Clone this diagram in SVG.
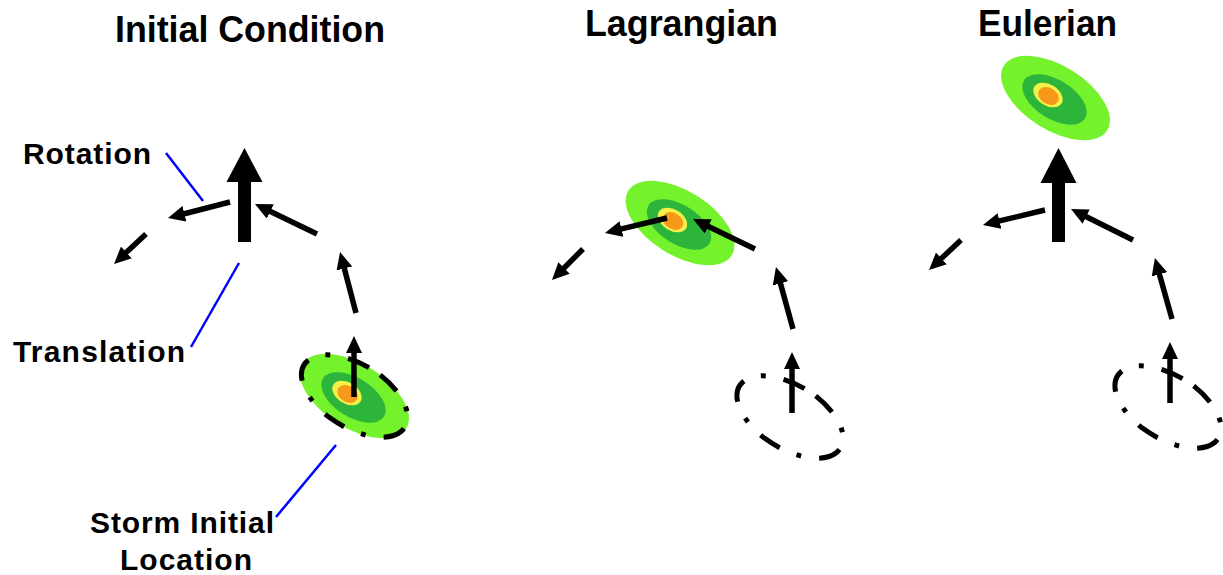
<svg xmlns="http://www.w3.org/2000/svg" xmlns:xlink="http://www.w3.org/1999/xlink" width="1223" height="575" viewBox="0 0 1223 575">
  <style>
    .title { font-family: "Liberation Sans", Arial, sans-serif; font-weight: bold; font-size: 36px; fill: #000; }
    .label { font-family: "Liberation Sans", Arial, sans-serif; font-weight: bold; font-size: 30px; fill: #000; }
    .vec { stroke: #000; stroke-width: 5.5; fill: none; marker-end: url(#head); }
    .big { fill: #000; }
    .leader { stroke: #0000ff; stroke-width: 2.5; fill: none; }
    .track { fill: none; stroke: #000; stroke-width: 5; stroke-dasharray: 24 19 5 19; }
  </style>
  <defs>
    <marker id="head" viewBox="0 0 17 16" refX="1" refY="8" markerWidth="17" markerHeight="16" markerUnits="userSpaceOnUse" orient="auto">
      <path d="M0,0 L17,8 L0,16 Z" fill="#000"/>
    </marker>
    <!-- storm field: nested contour levels, tilted -->
    <g id="storm">
      <ellipse cx="0" cy="0" rx="61" ry="32" transform="rotate(32)" fill="#74f22c"/>
      <ellipse cx="0" cy="0" rx="36" ry="19.5" transform="translate(-1 1.5) rotate(32)" fill="#2db53b"/>
      <ellipse cx="0" cy="0" rx="16" ry="10.5" transform="translate(-7.5 -3) rotate(32)" fill="#f4f04a"/>
      <ellipse cx="0" cy="0" rx="11" ry="8" transform="translate(-7 -2) rotate(32)" fill="#f6991b"/>
    </g>
    <!-- dash-dot outline of the storm's starting position -->
    <path id="track" d="M10.6,-31.5 A61 32 0 0 1 -10.6,31.5 A61 32 0 0 1 10.6,-31.5" pathLength="306" transform="rotate(32)"/>
  </defs>

  <!-- panel titles -->
  <g id="title-initial"><text class="title" x="115" y="42" textLength="270" lengthAdjust="spacingAndGlyphs">Initial Condition</text></g>
  <g id="title-lagrangian"><text class="title" x="585" y="36" textLength="193" lengthAdjust="spacingAndGlyphs">Lagrangian</text></g>
  <g id="title-eulerian"><text class="title" x="978" y="36" textLength="139" lengthAdjust="spacingAndGlyphs">Eulerian</text></g>

  <!-- side labels -->
  <g id="label-rotation"><text class="label" x="23" y="164" textLength="128">Rotation</text></g>
  <g id="label-translation"><text class="label" x="13" y="362" textLength="172">Translation</text></g>
  <g id="label-storm">
    <text class="label" x="90" y="533" textLength="184">Storm Initial</text>
    <text class="label" x="120" y="570" textLength="132">Location</text>
  </g>

  <!-- storms -->
  <g id="storm-initial">
    <use xlink:href="#storm" href="#storm" transform="translate(354.5 396)"/>
    <use xlink:href="#track" href="#track" class="track" transform="translate(354.5 396)"/>
  </g>
  <g id="storm-lagrangian">
    <use xlink:href="#storm" href="#storm" transform="translate(680 223)"/>
    <use xlink:href="#track" href="#track" class="track" transform="translate(790 417)"/>
  </g>
  <g id="storm-eulerian">
    <use xlink:href="#storm" href="#storm" transform="translate(1055.5 98)"/>
    <use xlink:href="#track" href="#track" class="track" transform="translate(1168 407)"/>
  </g>

  <!-- steering vectors and leader lines -->
  <g id="connectors">
    <!-- Initial Condition -->
    <polygon class="big" points="238,242 238,182 226.5,182 244.5,148 262.5,182 251,182 251,242"/>
    <line class="vec" x1="230" y1="202" x2="183.5" y2="214"/>
    <line class="vec" x1="146" y1="234" x2="125.7" y2="253.1"/>
    <line class="vec" x1="317" y1="234" x2="269.4" y2="211"/>
    <line class="vec" x1="356" y1="313" x2="344.1" y2="267.5"/>
    <line class="vec" x1="354" y1="397" x2="354" y2="352"/>

    <!-- Lagrangian -->
    <line class="vec" x1="667" y1="218" x2="620.5" y2="229.2"/>
    <line class="vec" x1="583" y1="249" x2="563.3" y2="268.7"/>
    <line class="vec" x1="755" y1="249" x2="707.4" y2="226"/>
    <line class="vec" x1="793" y1="329" x2="780.2" y2="282.4"/>
    <line class="vec" x1="792" y1="413" x2="792" y2="368"/>

    <!-- Eulerian -->
    <polygon class="big" points="1052,242 1052,183 1040.5,183 1058.5,148 1076.5,183 1065,183 1065,242"/>
    <line class="vec" x1="1045" y1="210" x2="998.5" y2="221.2"/>
    <line class="vec" x1="961" y1="240" x2="940.7" y2="259.1"/>
    <line class="vec" x1="1133" y1="240" x2="1085.3" y2="216.2"/>
    <line class="vec" x1="1172" y1="319" x2="1159.2" y2="273.4"/>
    <line class="vec" x1="1170" y1="403" x2="1170" y2="358"/>

    <!-- leaders -->
    <line class="leader" x1="166" y1="153" x2="203" y2="201"/>
    <line class="leader" x1="239" y1="263" x2="191" y2="347"/>
    <line class="leader" x1="336" y1="445" x2="276" y2="517"/>
  </g>
</svg>
